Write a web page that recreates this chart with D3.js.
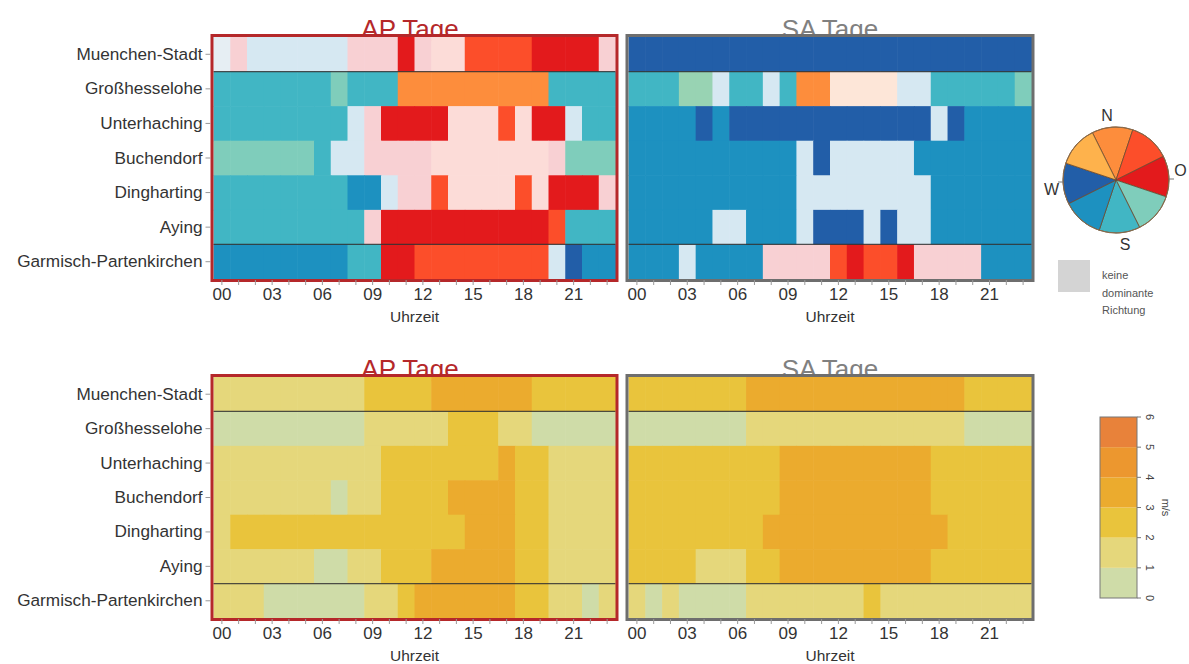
<!DOCTYPE html>
<html>
<head>
<meta charset="utf-8">
<script src="https://cdn.jsdelivr.net/npm/d3@7"></script>
<style>
html,body{margin:0;padding:0;background:#fff;}
svg{display:block;font-family:"Liberation Sans",Arial,sans-serif;}
</style>
</head>
<body>
<svg id="chart" width="1189" height="664"></svg>
<script>
// ---------- data ----------
const stations = ["Muenchen-Stadt","Großhesselohe","Unterhaching","Buchendorf","Dingharting","Aying","Garmisch-Partenkirchen"];
const hours = d3.range(24);
const hourTicks = [0,3,6,9,12,15,18,21];

// Direction codes: N NO O SO S SW W NW ; pale codes: o (pale red), p (pale peach), b (pale blue), c (pale cream), g (pale SO), x (whitish)
const apDirMuenchen  = ["x","o","b","b","b","b","b","b","o","o","o","O","o","p","p","NO","NO","NO","NO","O","O","O","O","o"];
const apDirGross     = ["S","S","S","S","S","S","S","SO","S","S","S","N","N","N","N","N","N","N","N","N","S","S","S","S"];
const apDirUnter     = ["S","S","S","S","S","S","S","S","b","o","O","O","O","O","p","p","p","NO","p","O","O","b","S","S"];
const apDirBuchen    = ["SO","SO","SO","SO","SO","SO","S","b","b","o","o","o","o","p","p","p","p","p","p","p","o","SO","SO","SO"];
const apDirDing      = ["S","S","S","S","S","S","S","S","SW","SW","b","o","o","NO","p","p","p","p","NO","p","O","O","O","o"];
const apDirAying     = ["S","S","S","S","S","S","S","S","S","o","O","O","O","O","O","O","O","O","O","O","NO","S","S","S"];
const apDirGarmisch  = ["SW","SW","SW","SW","SW","SW","SW","SW","S","S","O","O","NO","NO","NO","NO","NO","NO","NO","NO","b","W","SW","SW"];

const saDirMuenchen  = ["W","W","W","W","W","W","W","W","W","W","W","W","W","W","W","W","W","W","W","W","W","W","W","W"];
const saDirGross     = ["S","S","S","g","g","b","S","S","b","S","N","N","c","c","c","c","b","b","S","S","S","S","S","SO"];
const saDirUnter     = ["SW","SW","SW","SW","W","SW","W","W","W","W","W","W","W","W","W","W","W","W","b","W","SW","SW","SW","SW"];
const saDirBuchen    = ["SW","SW","SW","SW","SW","SW","SW","SW","SW","SW","b","W","b","b","b","b","b","SW","SW","SW","SW","SW","SW","SW"];
const saDirDing      = ["SW","SW","SW","SW","SW","SW","SW","SW","SW","SW","b","b","b","b","b","b","b","b","SW","SW","SW","SW","SW","SW"];
const saDirAying     = ["SW","SW","SW","SW","SW","b","b","SW","SW","SW","b","W","W","W","b","W","b","b","SW","SW","SW","SW","SW","SW"];
const saDirGarmisch  = ["SW","SW","SW","b","SW","SW","SW","SW","o","o","o","o","NO","O","NO","NO","O","o","o","o","o","SW","SW","SW"];

// Wind speed (m/s)
const apSpdMuenchen  = [1.6,1.6,1.6,1.6,1.6,1.6,1.6,1.6,1.6,2.5,2.5,2.5,2.5,3.4,3.4,3.4,3.4,3.4,3.4,2.5,2.5,2.5,2.5,2.5];
const apSpdGross     = [0.8,0.8,0.8,0.8,0.8,0.8,0.8,0.8,0.8,1.6,1.6,1.6,1.6,1.6,2.5,2.5,2.5,1.6,1.6,0.8,0.8,0.8,0.8,0.8];
const apSpdUnter     = [1.6,1.6,1.6,1.6,1.6,1.6,1.6,1.6,1.6,1.6,2.5,2.5,2.5,2.5,2.5,2.5,2.5,3.4,2.5,2.5,1.6,1.6,1.6,1.6];
const apSpdBuchen    = [1.6,1.6,1.6,1.6,1.6,1.6,1.6,0.8,1.6,1.6,2.5,2.5,2.5,2.5,3.4,3.4,3.4,3.4,2.5,2.5,1.6,1.6,1.6,1.6];
const apSpdDing      = [1.6,2.5,2.5,2.5,2.5,2.5,2.5,2.5,2.5,2.5,2.5,2.5,2.5,2.5,2.5,3.4,3.4,3.4,2.5,2.5,1.6,1.6,1.6,1.6];
const apSpdAying     = [1.6,1.6,1.6,1.6,1.6,1.6,0.8,0.8,1.6,1.6,2.5,2.5,2.5,3.4,3.4,3.4,3.4,3.4,2.5,2.5,1.6,1.6,1.6,1.6];
const apSpdGarmisch  = [1.6,1.6,1.6,0.8,0.8,0.8,0.8,0.8,0.8,1.6,1.6,2.5,3.4,3.4,3.4,3.4,3.4,3.4,2.5,2.5,1.6,1.6,0.8,1.6];

const saSpdMuenchen  = [2.5,2.5,2.5,2.5,2.5,2.5,2.5,3.4,3.4,3.4,3.4,3.4,3.4,3.4,3.4,3.4,3.4,3.4,3.4,3.4,2.5,2.5,2.5,2.5];
const saSpdGross     = [0.8,0.8,0.8,0.8,0.8,0.8,0.8,1.6,1.6,1.6,1.6,1.6,1.6,1.6,1.6,1.6,1.6,1.6,1.6,1.6,0.8,0.8,0.8,0.8];
const saSpdUnter     = [2.5,2.5,2.5,2.5,2.5,2.5,2.5,2.5,2.5,3.4,3.4,3.4,3.4,3.4,3.4,3.4,3.4,3.4,2.5,2.5,2.5,2.5,2.5,2.5];
const saSpdBuchen    = [2.5,2.5,2.5,2.5,2.5,2.5,2.5,2.5,2.5,3.4,3.4,3.4,3.4,3.4,3.4,3.4,3.4,3.4,2.5,2.5,2.5,2.5,2.5,2.5];
const saSpdDing      = [2.5,2.5,2.5,2.5,2.5,2.5,2.5,2.5,3.4,3.4,3.4,3.4,3.4,3.4,3.4,3.4,3.4,3.4,3.4,2.5,2.5,2.5,2.5,2.5];
const saSpdAying     = [2.5,2.5,2.5,2.5,1.6,1.6,1.6,2.5,2.5,3.4,3.4,3.4,3.4,3.4,3.4,3.4,3.4,3.4,2.5,2.5,2.5,2.5,2.5,2.5];
const saSpdGarmisch  = [1.6,0.8,1.6,0.8,0.8,0.8,0.8,1.6,1.6,1.6,1.6,1.6,1.6,1.6,2.5,1.6,1.6,1.6,1.6,1.6,1.6,1.6,1.6,1.6];

const directions = ["N","NO","O","SO","S","SW","W","NW"];
const dirColors  = ["#fd8d3c","#fc4e2a","#e31a1c","#7fcdbb","#41b6c4","#1d91c0","#225ea8","#feb24c"];
const paleCodes  = ["o","p","b","c","g","x"];
const paleColors = ["#f8d0d3","#fcdcd8","#d6e8f2","#fde6d8","#98d3b3","#e6eef3"];
const compassLabels = ["N","O","S","W"];
const speedBins   = [1,2,3,4,5];
const speedColors = ["#cfdca8","#e5d77b","#e9c43c","#ebab2e","#ec972f","#e8823a"];
const speedTicks  = [0,1,2,3,4,5,6];

// ---------- setup ----------
const svg = d3.select("#chart");
const dirColor = d3.scaleOrdinal().domain(directions.concat(paleCodes)).range(dirColors.concat(paleColors));
const spdColor = d3.scaleThreshold().domain(speedBins).range(speedColors);

const apDir = [apDirMuenchen,apDirGross,apDirUnter,apDirBuchen,apDirDing,apDirAying,apDirGarmisch];
const saDir = [saDirMuenchen,saDirGross,saDirUnter,saDirBuchen,saDirDing,saDirAying,saDirGarmisch];
const apSpd = [apSpdMuenchen,apSpdGross,apSpdUnter,apSpdBuchen,apSpdDing,apSpdAying,apSpdGarmisch];
const saSpd = [saSpdMuenchen,saSpdGross,saSpdUnter,saSpdBuchen,saSpdDing,saSpdAying,saSpdGarmisch];

const textCol = "#333";

function panel(opts){
  const {x0,x1,y0,y1,rows,color,title,titleColor,frameColor,yLabels,titleX} = opts;
  const g = svg.append("g");
  const x = d3.scaleBand().domain(hours).range([x0,x1]);
  const y = d3.scaleBand().domain(stations).range([y0,y1]);
  // title (drawn first, partially covered by the frame)
  g.append("text").attr("x", titleX).attr("y", y0+1).attr("text-anchor","middle")
    .attr("font-size",26).attr("fill",titleColor).text(title);
  // cells
  stations.forEach((s,i)=>{
    g.selectAll(null).data(rows[i]).enter().append("rect")
      .attr("x",(d,h)=>x(h)).attr("y",y(s))
      .attr("width",x.bandwidth()+0.6).attr("height",y.bandwidth()+0.6)
      .attr("fill",d=>color(d));
  });
  // separator lines
  [stations[1],stations[6]].forEach(s=>{
    g.append("line").attr("x1",x0).attr("x2",x1).attr("y1",y(s)).attr("y2",y(s))
      .attr("stroke","#333").attr("stroke-width",1.3).attr("stroke-opacity",0.85);
  });
  // frame
  g.append("rect").attr("x",x0-1.5).attr("y",y0-1.5).attr("width",x1-x0+3).attr("height",y1-y0+3)
    .attr("fill","none").attr("stroke",frameColor).attr("stroke-width",3);
  // x axis
  const xa = g.append("g").attr("transform",`translate(0,${y1+1})`)
    .call(d3.axisBottom(x).tickSize(5).tickPadding(3)
      .tickFormat(h=>hourTicks.includes(h)?d3.format("02d")(h):""));
  xa.select(".domain").remove();
  xa.selectAll(".tick line").attr("stroke","#999");
  xa.selectAll("text").attr("font-size",17).attr("fill",textCol).attr("font-family","Liberation Sans, Arial, sans-serif");
  g.append("text").attr("x",(x0+x1)/2).attr("y",y1+43).attr("text-anchor","middle")
    .attr("font-size",15.5).attr("fill",textCol).text("Uhrzeit");
  if(yLabels){
    const ya = g.append("g").attr("transform",`translate(${x0-3},0)`)
      .call(d3.axisLeft(y).tickSize(5).tickPadding(3));
    ya.select(".domain").remove();
    ya.selectAll(".tick line").attr("stroke","#999");
    ya.selectAll("text").attr("font-size",17.2).attr("fill",textCol).attr("font-family","Liberation Sans, Arial, sans-serif");
  }
}

const AP = {x0:213.5,x1:615.5}, SA = {x0:628.5,x1:1031.5};
const TOP = {y0:37,y1:279}, BOT = {y0:377,y1:618};
const apRed = "#b5282a", saGray = "#6e6e6e";

panel({...AP,...TOP,rows:apDir,color:dirColor,title:"AP Tage",titleColor:apRed,frameColor:apRed,yLabels:true,titleX:410});
panel({...SA,...TOP,rows:saDir,color:dirColor,title:"SA Tage",titleColor:"#808080",frameColor:saGray,yLabels:false,titleX:830});
panel({...AP,...BOT,rows:apSpd,color:spdColor,title:"AP Tage",titleColor:apRed,frameColor:apRed,yLabels:true,titleX:410});
panel({...SA,...BOT,rows:saSpd,color:spdColor,title:"SA Tage",titleColor:"#808080",frameColor:saGray,yLabels:false,titleX:830});

// ---------- compass legend ----------
const cx = 1116, cy = 180, R = 53;
const rot = -4*Math.PI/180;
const arc = d3.arc().innerRadius(0).outerRadius(R);
const cg = svg.append("g").attr("transform",`translate(${cx},${cy})`);
cg.selectAll("path").data(directions).enter().append("path")
  .attr("d",(d,i)=>arc({startAngle:(i*45-22.5)*Math.PI/180+rot,endAngle:(i*45+22.5)*Math.PI/180+rot}))
  .attr("fill",(d,i)=>dirColors[i]).attr("stroke","#6b4a2f").attr("stroke-width",0.8);
cg.append("circle").attr("r",R).attr("fill","none").attr("stroke","#8a6a4a").attr("stroke-width",1);
const labAng = -8*Math.PI/180;
compassLabels.forEach((l,i)=>{
  const a = i*Math.PI/2 + labAng;
  const rr = R + 12;
  cg.append("text").attr("x",Math.sin(a)*rr).attr("y",-Math.cos(a)*rr)
    .attr("text-anchor","middle").attr("dominant-baseline","central")
    .attr("font-size",16).attr("fill",textCol).text(l);
});
// small ticks at W and O
[["O",1],["W",-1]].forEach(([l,s])=>{
  cg.append("line").attr("x1",s*R).attr("x2",s*(R+5)).attr("y1",s>0?-1:2).attr("y2",s>0?-1:2)
    .attr("stroke","#777").attr("stroke-width",1);
});
svg.append("rect").attr("x",1058).attr("y",260).attr("width",32).attr("height",32).attr("fill","#d4d4d4");
["keine","dominante","Richtung"].forEach((t,i)=>{
  svg.append("text").attr("x",1102).attr("y",279+i*17.5).attr("font-size",11).attr("fill","#555").text(t);
});

// ---------- speed colour bar ----------
const by = d3.scaleLinear().domain([0,6]).range([598,417]);
const bx0 = 1100, bw = 37;
const bg = svg.append("g");
bg.selectAll("rect").data(speedColors).enter().append("rect")
  .attr("x",bx0).attr("y",(d,i)=>by(i+1)).attr("width",bw).attr("height",(d,i)=>by(i)-by(i+1))
  .attr("fill",d=>d);
bg.append("rect").attr("x",bx0).attr("y",by(6)).attr("width",bw).attr("height",by(0)-by(6))
  .attr("fill","none").attr("stroke","#777").attr("stroke-width",1);
speedTicks.forEach(v=>{
  bg.append("line").attr("x1",bx0+bw).attr("x2",bx0+bw+4).attr("y1",by(v)).attr("y2",by(v)).attr("stroke","#777");
  bg.append("text").attr("transform",`translate(${bx0+bw+9},${by(v)}) rotate(90)`)
    .attr("text-anchor","middle").attr("font-size",11).attr("fill","#444").text(v);
});
bg.append("text").attr("transform",`translate(${bx0+bw+25},${by(3)}) rotate(90)`)
  .attr("text-anchor","middle").attr("font-size",11).attr("fill","#444").text("m/s");
</script>
</body>
</html>
